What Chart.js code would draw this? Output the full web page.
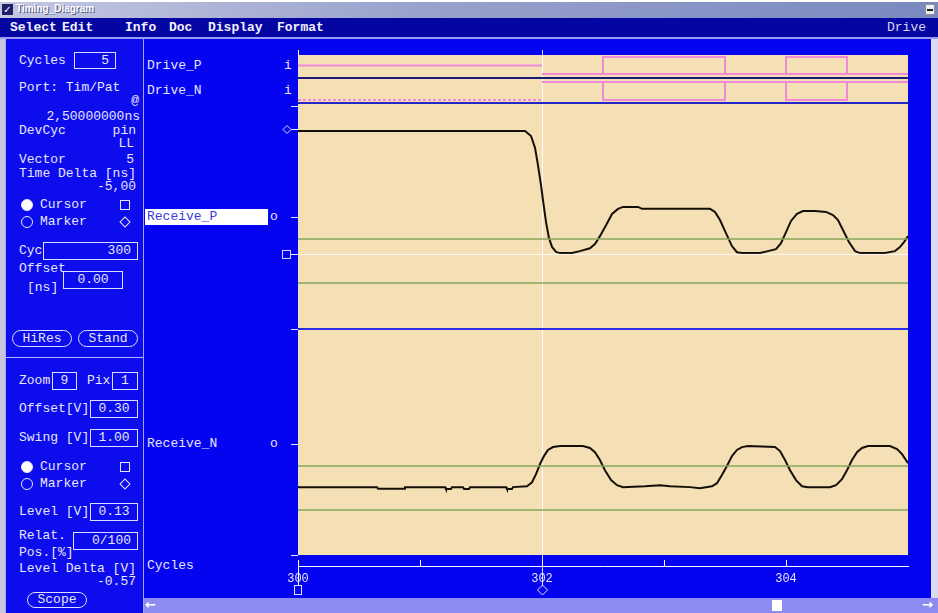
<!DOCTYPE html>
<html>
<head>
<meta charset="utf-8">
<script src="https://cdn.jsdelivr.net/npm/chart.js@4.4.1/dist/chart.umd.min.js"></script>
<style>
  html, body { margin: 0; padding: 0; background: #ffffff; }
  body { width: 938px; height: 613px; position: relative; overflow: hidden;
         font-family: 'Liberation Mono', 'DejaVu Sans Mono', monospace; }
  .abs { position: absolute; }
  .lbl { position: absolute; height: 16px; line-height: 16px; white-space: pre;
         font-size: 13px; color: #e6e6ff; }
  .box { position: absolute; border: 1px solid #dcdcff; box-sizing: border-box;
         font-size: 13px; color: #e6e6ff; white-space: pre; }
  .btn { position: absolute; border: 1px solid #dcdcff; box-sizing: border-box; border-radius: 9px;
         font-size: 13px; color: #e6e6ff; text-align: center; }
  .menu { position: absolute; top: 19px; height: 18px; line-height: 18px; font-size: 13px;
          font-weight: bold; color: #f0f0ff; white-space: pre; }
</style>
</head>
<body>
<!-- window title bar -->
<div class="abs" style="left:0;top:0;width:938px;height:2px;background:#ffffff"></div>
<div class="abs" style="left:0;top:2px;width:938px;height:16px;background:linear-gradient(to right,#c4c8e2,#98a2cc 45%,#7a88c0)"></div>
<div class="abs" style="left:2px;top:4px;width:11px;height:11px;background:#20206a;color:#fff;font:bold 10px 'DejaVu Sans';line-height:11px;text-align:center">✓</div>
<div class="abs" style="left:16px;top:3px;height:14px;line-height:14px;font:bold 10px 'Liberation Sans',sans-serif;color:#ffffff;text-shadow:1px 1px 0 #50588a">Timing_Diagram</div>
<div class="abs" style="left:925px;top:4px;width:10px;height:11px;background:#f0f0f0;border:1px solid #9090a0;box-sizing:border-box"></div>
<div class="abs" style="left:927px;top:9px;width:6px;height:2px;background:#202020"></div>

<!-- menu bar -->
<div class="abs" style="left:0;top:18px;width:938px;height:20px;background:#0505a2"></div>
<div class="menu" style="left:10px">Select</div>
<div class="menu" style="left:62px">Edit</div>
<div class="menu" style="left:125px">Info</div>
<div class="menu" style="left:169px">Doc</div>
<div class="menu" style="left:208px">Display</div>
<div class="menu" style="left:277px">Format</div>
<div class="menu" style="left:887px;font-weight:normal;color:#d8d8f4">Drive</div>
<div class="abs" style="left:0;top:37px;width:938px;height:2px;background:#9c9cf6"></div>

<!-- left control panel -->
<div class="abs" style="left:0;top:39px;width:5px;height:574px;background:#c6c6dc"></div>
<div class="abs" style="left:5px;top:39px;width:138px;height:574px;background:#0c0cec"></div>
<div class="abs" style="left:5px;top:39px;width:1px;height:574px;background:#a8a8ff"></div>
<div class="abs" style="left:143px;top:39px;width:1px;height:574px;background:#a0a0fa"></div>
<div class="abs" style="left:6px;top:357px;width:137px;height:1px;background:#b4b4ff"></div>

<!-- waveform area background -->
<div class="abs" style="left:144px;top:39px;width:787px;height:559px;background:#0404f0"></div>
<div class="abs" style="left:931px;top:39px;width:7px;height:559px;background:#dadaee"></div>

<!-- horizontal scroll bar -->
<div class="abs" style="left:144px;top:598px;width:794px;height:15px;background:#8c8cf0"></div>
<div class="abs" style="left:145px;top:597px;height:16px;line-height:16px;font:bold 13px 'DejaVu Sans';color:#ffffff">←</div>
<div class="abs" style="left:922px;top:597px;height:16px;line-height:16px;font:bold 13px 'DejaVu Sans';color:#ffffff">→</div>
<div class="abs" style="left:772px;top:600px;width:10px;height:11px;background:#ffffff"></div>

<div id="ui"></div>
<canvas id="c" width="787" height="558" style="position:absolute;left:144px;top:40px"></canvas>

<script>
// ---------- signal data ----------
const cycleRange   = [300, 305];
const cycleLabels  = [300, 302, 304];
const cursorCycle  = 300;
const markerCycle  = 302;

// drive pins: idle before the pattern starts, then the driven levels
const driveIdleCycles = [300, 302];
const drivePIdle      = [0.5, 0.5];
const driveNIdle      = [0, 0];
const driveEdges      = [302, 302.5, 303.5, 304, 304.5, 305];
const drivePLevels    = [0, 1, 0, 1, 0, 0];
const driveNLevels    = [1, 0, 1, 0, 1, 1];
const drivePBase      = [0, 0];
const driveNBase      = [1, 1];

// receive pins, volts
const recvPCycles = [300.000, 301.861, 301.910, 301.943, 301.967, 301.992, 302.008, 302.033, 302.057, 302.082,
  302.115, 302.148, 302.246, 302.311, 302.393, 302.434, 302.475, 302.525, 302.574, 302.623, 302.664, 302.787,
  302.820, 303.377, 303.418, 303.459, 303.508, 303.557, 303.598, 303.639, 303.787, 303.852, 303.918, 303.959,
  304.000, 304.041, 304.090, 304.139, 304.238, 304.328, 304.385, 304.426, 304.467, 304.516, 304.566, 304.607,
  304.811, 304.893, 304.934, 304.967, 305.000];
const recvPVolts = [0.691, 0.691, 0.668, 0.614, 0.536, 0.445, 0.377, 0.277, 0.205, 0.164,
  0.141, 0.136, 0.136, 0.145, 0.158, 0.177, 0.213, 0.263, 0.314, 0.337, 0.346, 0.346,
  0.337, 0.337, 0.323, 0.286, 0.227, 0.168, 0.140, 0.136, 0.136, 0.145, 0.154, 0.181,
  0.231, 0.282, 0.314, 0.327, 0.327, 0.323, 0.309, 0.286, 0.241, 0.186, 0.145, 0.136,
  0.136, 0.145, 0.163, 0.186, 0.213];

const recvNCycles = [300.000, 300.648, 300.656, 300.869, 300.877, 301.205, 301.213, 301.254, 301.262, 301.352,
  301.361, 301.402, 301.410, 301.705, 301.713, 301.754, 301.762, 301.877, 301.918, 301.951, 301.984, 302.016,
  302.049, 302.090, 302.148, 302.336, 302.393, 302.434, 302.475, 302.516, 302.566, 302.615, 302.664, 302.844,
  302.967, 303.049, 303.213, 303.295, 303.393, 303.434, 303.475, 303.516, 303.557, 303.598, 303.639, 303.689,
  303.910, 303.951, 303.992, 304.033, 304.082, 304.131, 304.180, 304.361, 304.410, 304.459, 304.500, 304.541,
  304.582, 304.623, 304.672, 304.852, 304.910, 304.951, 305.000];
const recvNVolts = [0.104, 0.104, 0.097, 0.097, 0.104, 0.104, 0.095, 0.095, 0.104, 0.104,
  0.095, 0.095, 0.104, 0.104, 0.095, 0.095, 0.104, 0.108, 0.126, 0.163, 0.209, 0.245,
  0.273, 0.286, 0.291, 0.291, 0.282, 0.263, 0.227, 0.181, 0.136, 0.113, 0.104, 0.108,
  0.113, 0.108, 0.104, 0.099, 0.108, 0.122, 0.159, 0.200, 0.245, 0.273, 0.286, 0.291,
  0.286, 0.268, 0.227, 0.181, 0.136, 0.108, 0.104, 0.104, 0.113, 0.140, 0.181, 0.227,
  0.263, 0.282, 0.291, 0.291, 0.277, 0.254, 0.213];

const thresholdVolts = [0.20, 0.00];
const offsetVolts    = 0.30;
const cursorLevel    = 0.13;
const levelDelta     = -0.57;
const markerLevel    = +(cursorLevel - levelDelta).toFixed(2);

// ---------- control panel ----------
const ui = document.getElementById('ui');
function add(cls, css, text) {
  const d = document.createElement('div');
  d.className = cls;
  Object.assign(d.style, css);
  if (text != null) d.textContent = text;
  ui.appendChild(d);
  return d;
}
function label(text, x, cy, css = {}) {
  return add('lbl', Object.assign({ left: x + 'px', top: (cy - 8) + 'px' }, css), text);
}
function rlabel(text, right, cy, css = {}) {
  return add('lbl', Object.assign({ right: (938 - right) + 'px', top: (cy - 8) + 'px' }, css), text);
}
function field(text, x, y, w, h, align = 'right') {
  return add('box', { left: x + 'px', top: y + 'px', width: w + 'px', height: h + 'px',
    lineHeight: (h - 2) + 'px', textAlign: align, paddingRight: align === 'right' ? '6px' : '0' }, text);
}
function button(text, x, y, w, h) {
  return add('btn', { left: x + 'px', top: y + 'px', width: w + 'px', height: h + 'px', lineHeight: (h - 2) + 'px' }, text);
}
function radio(cx, cy, filled) {
  add('abs', { left: (cx - 6) + 'px', top: (cy - 6) + 'px', width: '12px', height: '12px', borderRadius: '50%',
    boxSizing: 'border-box', border: '1px solid #e6e6ff', background: filled ? '#ffffff' : 'transparent' });
}
function squareIcon(cx, cy) {
  add('abs', { left: (cx - 5) + 'px', top: (cy - 5) + 'px', width: '10px', height: '10px',
    boxSizing: 'border-box', border: '1px solid #e6e6ff' });
}
function diamondIcon(cx, cy) {
  add('abs', { left: (cx - 4) + 'px', top: (cy - 4) + 'px', width: '8px', height: '8px',
    boxSizing: 'border-box', border: '1px solid #e6e6ff', transform: 'rotate(45deg)' });
}

label('Cycles', 19, 61);            field('5', 74, 52, 42, 17);
label('Port: Tim/Pat', 19, 88);
rlabel('@', 139, 101);
rlabel('2,50000000ns', 140, 117);
label('DevCyc', 19, 131);           rlabel('pin', 136, 131);
rlabel('LL', 134, 144);
label('Vector', 19, 160);           rlabel('5', 134, 160);
label('Time Delta [ns]', 19, 174);
rlabel('-5,00', 136, 187);
radio(27, 205, true);  label('Cursor', 40, 205); squareIcon(125, 205);
radio(27, 222, false); label('Marker', 40, 222); diamondIcon(125, 222);
label('Cyc', 19, 251);              field('300', 43, 242, 95, 18);
label('Offset', 19, 269);
label('[ns]', 27, 288);             field('0.00', 63, 271, 60, 18, 'center');
button('HiRes', 12, 330, 60, 17);
button('Stand', 78, 330, 60, 17);
label('Zoom', 19, 381);             field('9', 52, 372, 25, 18, 'center');
label('Pix', 87, 381);              field('1', 112, 372, 26, 18, 'center');
label('Offset[V]', 19, 409);        field(offsetVolts.toFixed(2), 90, 400, 48, 18, 'center');
label('Swing [V]', 19, 438);        field('1.00', 90, 429, 48, 18, 'center');
radio(27, 467, true);  label('Cursor', 40, 467); squareIcon(125, 467);
radio(27, 484, false); label('Marker', 40, 484); diamondIcon(125, 484);
label('Level [V]', 19, 512);        field(cursorLevel.toFixed(2), 90, 503, 48, 18, 'center');
label('Relat.', 19, 536);
label('Pos.[%]', 19, 553);          field('0/100', 73, 532, 65, 18, 'right');
label('Level Delta [V]', 19, 569);
rlabel(levelDelta.toFixed(2), 136, 582);
button('Scope', 27, 592, 60, 16);

// pin names
label('Drive_P', 147, 66);   label('i', 284, 66);
label('Drive_N', 147, 91);   label('i', 284, 91);
add('abs', { left: '145px', top: '209px', width: '123px', height: '16px', background: '#ffffff' });
label('Receive_P', 147, 217, { color: '#3a3ae0' });
label('o', 270, 217);
label('Receive_N', 147, 444);  label('o', 270, 444);
label('Cycles', 147, 566);

// ---------- waveform chart ----------
const pts = (xs, ys) => xs.map((x, i) => ({ x, y: ys[i] }));
const PINK = '#f08ad8';
const GREEN = '#86a85c';

function levelLine(yAxisID, v, color, width) {
  return { data: pts(cycleRange, [v, v]), yAxisID, borderColor: color, borderWidth: width };
}

const datasets = [
  // threshold levels
  ...thresholdVolts.map(v => levelLine('yRecvP', v, GREEN, 1.5)),
  ...thresholdVolts.map(v => levelLine('yRecvN', v, GREEN, 1.5)),
  // cursor level
  levelLine('yRecvP', cursorLevel, 'rgba(255,255,255,0.9)', 1),
  // drive pins
  { data: pts(driveIdleCycles, drivePIdle), yAxisID: 'yDriveP', borderColor: PINK, borderWidth: 2 },
  { data: pts([driveEdges[0], cycleRange[1]], drivePBase), yAxisID: 'yDriveP', borderColor: PINK, borderWidth: 2 },
  { data: pts(driveEdges, drivePLevels), yAxisID: 'yDriveP', borderColor: PINK, borderWidth: 2, stepped: true },
  { data: pts(driveIdleCycles, driveNIdle), yAxisID: 'yDriveN', borderColor: PINK, borderWidth: 2, borderDash: [3, 2] },
  { data: pts([driveEdges[0], cycleRange[1]], driveNBase), yAxisID: 'yDriveN', borderColor: PINK, borderWidth: 2 },
  { data: pts(driveEdges, driveNLevels), yAxisID: 'yDriveN', borderColor: PINK, borderWidth: 2, stepped: true },
  // receive pins
  { data: pts(recvPCycles, recvPVolts), yAxisID: 'yRecvP', borderColor: '#141008', borderWidth: 2 },
  { data: pts(recvNCycles, recvNVolts), yAxisID: 'yRecvN', borderColor: '#141008', borderWidth: 2 }
];

function hline(ctx, x1, x2, y, color, w) {
  ctx.strokeStyle = color; ctx.lineWidth = w;
  ctx.beginPath(); ctx.moveTo(x1, y); ctx.lineTo(x2, y); ctx.stroke();
}
function vline(ctx, x, y1, y2, color, w) {
  ctx.strokeStyle = color; ctx.lineWidth = w;
  ctx.beginPath(); ctx.moveTo(x, y1); ctx.lineTo(x, y2); ctx.stroke();
}
function diamond(ctx, cx, cy, r) {
  ctx.beginPath();
  ctx.moveTo(cx, cy - r); ctx.lineTo(cx + r, cy); ctx.lineTo(cx, cy + r); ctx.lineTo(cx - r, cy);
  ctx.closePath(); ctx.stroke();
}

const panelPlugin = {
  id: 'panel',
  beforeDatasetsDraw(chart) {
    const { ctx, chartArea: a, scales: s } = chart;
    ctx.save();
    ctx.fillStyle = '#f5dfb5';
    ctx.fillRect(a.left, s.yDriveP.top, a.right - a.left, s.yRecvN.bottom - s.yDriveP.top);
    // marker (vertical) through the whole diagram
    const mx = Math.round(s.x.getPixelForValue(markerCycle)) + 0.5;
    vline(ctx, mx, a.top - 5, a.bottom + 20, 'rgba(255,255,255,0.85)', 1);
    // cursor (vertical) shown outside the plot field
    const cx = Math.round(s.x.getPixelForValue(cursorCycle)) + 0.5;
    vline(ctx, cx, a.top - 5, a.top, '#ffffff', 1);
    vline(ctx, cx, a.bottom, a.bottom + 20, '#ffffff', 1);
    ctx.restore();
  },
  afterDatasetsDraw(chart) {
    const { ctx, chartArea: a, scales: s } = chart;
    ctx.save();
    // pin separators
    hline(ctx, a.left, a.right, s.yDriveP.bottom, '#1c1c78', 2);
    hline(ctx, a.left, a.right, s.yDriveN.bottom - 1, '#2424c8', 2);
    hline(ctx, a.left, a.right, s.yRecvP.bottom, '#2c2ce4', 2);
    // small ticks at the pin boundaries and offset levels
    const tickYs = [s.yRecvP.top + 2, s.yRecvP.getPixelForValue(offsetVolts), s.yRecvP.bottom,
                    s.yRecvN.getPixelForValue(offsetVolts), s.yRecvN.bottom];
    tickYs.forEach(y => hline(ctx, a.left - 7, a.left, Math.round(y) + 0.5, '#e0e0ff', 1));
    // level markers at the left edge
    ctx.strokeStyle = '#d8d8ff'; ctx.lineWidth = 1;
    const my = Math.round(s.yRecvP.getPixelForValue(markerLevel)) + 0.5;
    diamond(ctx, a.left - 11, my, 4);
    hline(ctx, a.left - 7, a.left, my, '#e8e8ff', 1);
    const cy = Math.round(s.yRecvP.getPixelForValue(cursorLevel)) + 0.5;
    ctx.strokeStyle = '#d8d8ff';
    ctx.strokeRect(a.left - 15.5, cy - 4, 8, 8);
    hline(ctx, a.left - 7, a.left, cy, '#e8e8ff', 1);
    // cycle markers below the axis
    const by = a.bottom + 24;
    ctx.strokeStyle = '#e0e0ff';
    ctx.strokeRect(Math.round(s.x.getPixelForValue(cursorCycle)) - 3.5, by - 4.5, 7, 9);
    diamond(ctx, Math.round(s.x.getPixelForValue(markerCycle)) + 0.5, by, 5);
    ctx.restore();
  }
};

const hidden = { display: false, position: 'right', stack: 'pins', type: 'linear' };

new Chart(document.getElementById('c'), {
  type: 'line',
  data: { datasets },
  options: {
    responsive: false,
    animation: false,
    devicePixelRatio: 1,
    layout: { padding: { left: 154, right: 23, top: 15, bottom: 0 } },
    plugins: { legend: { display: false }, tooltip: { enabled: false } },
    elements: { point: { radius: 0 }, line: { tension: 0, fill: false } },
    scales: {
      x: {
        type: 'linear', position: 'bottom', min: cycleRange[0], max: cycleRange[1],
        afterFit: sc => { sc.height = 32; },
        border: { display: true, color: '#ffffff', width: 1 },
        grid: { drawOnChartArea: false, drawTicks: true, tickLength: -6, lineWidth: 1,
                color: c => (c.tick && c.tick.value === cycleRange[1]) ? 'rgba(0,0,0,0)' : '#ffffff' },
        ticks: { stepSize: 1, autoSkip: false, maxRotation: 0, padding: 12, color: '#e6e6ff',
                 font: { family: 'Liberation Mono', size: 12 },
                 callback: v => cycleLabels.includes(v) ? String(v) : '' }
      },
      yDriveP: { ...hidden, stackWeight: 23,  min: -0.235, max: 1.118 },
      yDriveN: { ...hidden, stackWeight: 26,  min: -0.222, max: 1.222 },
      yRecvP:  { ...hidden, stackWeight: 225, min: -0.209, max: 0.8136 },
      yRecvN:  { ...hidden, stackWeight: 226, min: -0.2045, max: 0.8227 },
      yGap:    { ...hidden, stackWeight: 11,  min: 0, max: 1 }
    }
  },
  plugins: [panelPlugin]
});
</script>
</body>
</html>
